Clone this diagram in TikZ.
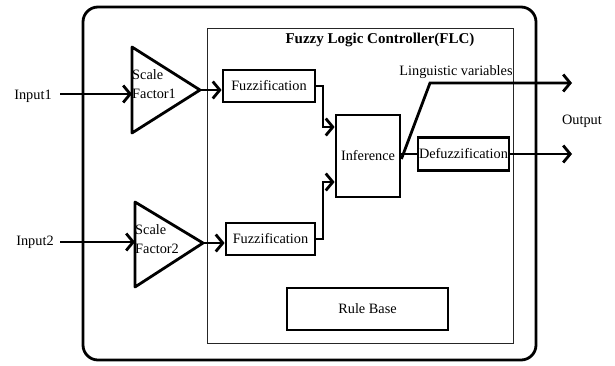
\documentclass[tikz,border=0pt]{standalone}
\usepackage{fontspec}
\setmainfont{Liberation Serif}
\usetikzlibrary{arrows.meta}
\begin{document}
\begin{tikzpicture}[x=1pt,y=-1pt,
  font=\fontsize{14.3}{19.5}\selectfont,
  heavy/.style={line width=2.8pt},
  arr/.style={heavy,-{Straight Barb[length=7pt,width=17pt,line width=2.8pt]}},
  block/.style={draw,heavy,inner sep=0pt,minimum width=#1},
  block/.default=92pt,
  lbl/.style={inner sep=0pt}]
\useasboundingbox (0,0) rectangle (615,365);

% outer frame and controller frame
\draw[heavy,rounded corners=15pt] (83,7) rectangle (536,360);
\draw[line width=0.9pt,black!85] (207,28) rectangle (513,343);
\node[lbl,font=\fontsize{15}{17}\selectfont\bfseries] (title) at (380,40) {Fuzzy Logic Controller(FLC)};

% scale factor amplifiers
\coordinate (t1a) at (132,47); \coordinate (t1b) at (132,133); \coordinate (t1) at (200,90);
\coordinate (t2a) at (135,202); \coordinate (t2b) at (135,287); \coordinate (t2) at (203,243);
\draw[heavy,line join=round] (t1a) -- (t1) -- (t1b) -- cycle;
\draw[heavy,line join=round] (t2a) -- (t2) -- (t2b) -- cycle;
\node[lbl,anchor=west,align=left] (s1) at (132,84) {Scale\\Factor1};
\node[lbl,anchor=west,align=left] (s2) at (135,239) {Scale\\Factor2};

% inputs
\node[lbl] (in1) at (33,96) {Input1};
\node[lbl] (in2) at (35,242) {Input2};
\coordinate (in1e) at (60,94);
\coordinate (in2e) at (60,242);
\draw[arr] (in1e) -- (t1a |- in1e);
\draw[arr] (in2e) -- (t2a |- in2e);

% blocks
\node[block=92pt,minimum height=32pt] (f1) at (269,86) {Fuzzification};
\node[block=89pt,minimum height=32pt] (f2) at (270.5,239) {Fuzzification};
\node[block=64pt,minimum height=82pt] (inf) at (368,156) {Inference};
\node[block=91pt,minimum height=33pt] (def) at (463.5,154) {Defuzzification};
\node[block=161pt,minimum height=42pt] (rb) at (367.5,309) {Rule Base};

% scaled signals into the fuzzifiers
\draw[arr] (t1) -- (t1 -| f1.west);
\draw[arr] (t2) -- (t2 -| f2.west);

% fuzzified signals into the inference engine
\coordinate (j1) at (323,127);
\coordinate (j2) at (323,182);
\draw[arr] (f1.east) -| (j1) -- (j1 -| inf.west);
\draw[arr] (f2.east) -| (j2) -- (j2 -| inf.west);

% outputs
\coordinate (o1) at (572,83);
\coordinate (o2) at (572,154);
\coordinate (lv) at (430,83);
\draw[heavy] (inf.east |- def) -- (def.west);
\draw[arr] (def.east) -- (o2);
\draw[arr] ([yshift=-3pt]inf.east) -- (lv) -- (o1);
\node[lbl] (ling) at (456,72) {Linguistic variables};
\node[lbl] (out) at (582,121) {Output};
\end{tikzpicture}
\end{document}
